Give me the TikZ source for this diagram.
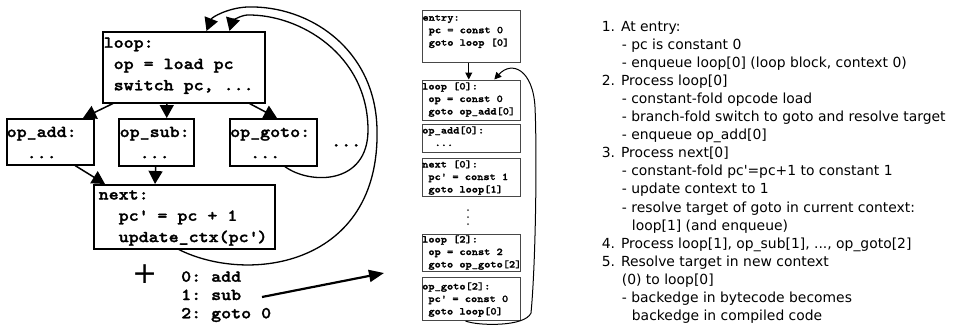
\documentclass[tikz,border=0pt]{standalone}
\usepackage{fontspec}
\setmainfont{DejaVu Sans}
\newfontfamily\courb[FakeStretch=1.14,FakeBold=1.6]{lmmonolt10-bold.otf}
\usetikzlibrary{arrows.meta}
\newcommand\mylines[1]{\begin{tabular}[t]{@{}l@{}}#1\end{tabular}}
\newcommand\ind{\hphantom{x}}
\newcommand\q{\textquotesingle}
\tikzset{
  lbox/.style={draw=black, line width=1.5bp, inner sep=0pt, anchor=north west},
  mbox/.style={draw=black!72, line width=1bp, inner sep=0pt, anchor=north west},
  ltxt/.style={anchor=base west, inner sep=0pt,
    font=\courb\fontsize{16.7bp}{21.3bp}\selectfont\frenchspacing},
  btxt/.style={anchor=base west, inner sep=0pt,
    font=\courb\fontsize{16.7bp}{18.3bp}\selectfont\frenchspacing},
  mtxt/.style={anchor=base west, inner sep=0pt,
    font=\courb\fontsize{10.36bp}{12.5bp}\selectfont\frenchspacing},
  rtxt/.style={anchor=base west, inner sep=0pt,
    font=\fontsize{13.9bp}{18.1bp}\selectfont},
  larrow/.style={line width=1.5bp, -{Triangle[length=13bp,width=14bp]}},
  lcurve/.style={line width=1.3bp, -{Triangle[length=13bp,width=14bp]}},
  marrow/.style={line width=1bp, -{Triangle[length=7bp,width=7bp]}},
  bigarrow/.style={line width=2.2bp, -{Triangle[length=15bp,width=12bp]}},
}
\begin{document}
\begin{tikzpicture}[x=1bp, y=-1bp]
\useasboundingbox (0,0) rectangle (958,326);

% ---------- left: interpreter CFG ----------
\node[lbox, minimum width=162bp, minimum height=71bp] (loop) at (102,31) {};
\node[lbox, minimum width=87bp, minimum height=46bp] (opadd) at (6,118) {};
\node[lbox, minimum width=75bp, minimum height=47bp] (opsub) at (118,118) {};
\node[lbox, minimum width=87bp, minimum height=47bp] (opgoto) at (229,118) {};
\node[lbox, minimum width=181bp, minimum height=64bp] (next) at (93,184) {};

\node[ltxt] (looptxt) at (103.5,47.7) {\mylines{loop:\\\ind op = load pc\\\ind switch pc, ...}};
\node[ltxt] (opaddtxt) at (6.5,137) {\mylines{op\_add:\\\ind\ind ...}};
\node[ltxt] (opsubtxt) at (119.5,137) {\mylines{op\_sub:\\\ind\ind ...}};
\node[ltxt] (opgototxt) at (230,137) {\mylines{op\_goto:\\\ind\ind ...}};
\node[ltxt] (moreops) at (331,146.5) {...};
\node[ltxt] (nexttxt) at (98.5,199.5) {\mylines{next:\\\ind\ind pc\q{} = pc + 1\\\ind\ind update\_ctx(pc\q)}};

\draw[larrow] ([xshift=11bp]loop.south west) -- ([xshift=77bp]opadd.north west);
\draw[larrow] ([xshift=-17bp]loop.south) -- ([xshift=10.5bp]opsub.north);
\draw[larrow] ([xshift=-16bp]loop.south east) -- ([xshift=48bp]opgoto.north west);
\draw[larrow] ([xshift=69bp]opadd.south west) -- ([xshift=12bp]next.north west);
\draw[larrow] ([xshift=-0.5bp]opsub.south) -- ([xshift=62bp]next.north west);

\draw[lcurve] ([xshift=11.5bp]opgoto.south)
  .. controls (310,185) and (368,185) .. (368,130)
  .. controls (368,55) and (300,14) .. (247,15)
  .. controls (238,16) and (232,22) .. ([xshift=-36bp]loop.north east);
\draw[lcurve] ([xshift=-5.5bp]next.south)
  .. controls (250,285) and (380,265) .. (377,130)
  .. controls (376,50) and (310,5) .. (247,7)
  .. controls (228,8) and (212,17) .. ([xshift=-59bp]loop.north east);

\node[font=\fontsize{30bp}{30bp}\selectfont, inner sep=0pt] (plus) at (145,274) {+};
\node[btxt] (bytecode) at (181,281.7) {\mylines{0: add\\1: sub\\2: goto 0}};
\coordinate (bcstart) at (262,297);
\coordinate (bcend) at (384,273);
\draw[bigarrow] (bcstart) -- (bcend);

% ---------- middle: compiled code ----------
\node[mbox, minimum width=98.5bp, minimum height=52bp] (entry) at (421.5,9.5) {};
\node[mbox, minimum width=98.5bp, minimum height=40bp] (loop0) at (421.5,79.5) {};
\node[mbox, minimum width=98.5bp, minimum height=28bp] (opadd0) at (421.5,124) {};
\node[mbox, minimum width=98.5bp, minimum height=38bp] (next0) at (421.5,158) {};
\node[mbox, minimum width=98.5bp, minimum height=37.5bp] (loop2) at (421.5,233.5) {};
\node[mbox, minimum width=98.5bp, minimum height=43.5bp] (opgoto2) at (421.5,276.5) {};

\node[mtxt] (entrytxt) at (422.3,20.7) {\mylines{entry:\\\ind pc = const 0\\\ind goto loop [0]}};
\node[mtxt] (loop0txt) at (422,89.5) {\mylines{loop [0]:\\\ind op = const 0\\\ind goto op\_add[0]}};
\node[mtxt] (opadd0txt) at (422,133.5) {\mylines{op\_add[0]:\\\ind\ind ...}};
\node[mtxt] (next0txt) at (422,167.5) {\mylines{next [0]:\\\ind pc\q{} = const 1\\\ind goto loop[1]}};
\node[mtxt] (loop2txt) at (422,242.5) {\mylines{loop [2]:\\\ind op = const 2\\\ind goto op\_goto[2]}};
\node[mtxt] (opgoto2txt) at (422,289.5) {\mylines{op\_goto[2]:\\\ind pc\q{} = const 0\\\ind goto loop[0]}};

\fill[black!75] (468,210) circle (1bp) (468,217) circle (1bp) (468,224) circle (1bp);

\draw[marrow] ([xshift=-2.5bp]entry.south) -- ([xshift=-2.5bp]loop0.north);
\draw[marrow] ([xshift=-5.7bp]opgoto2.south)
  .. controls (478,326) and (525,327) .. (531,313)
  .. controls (536,260) and (537,150) .. (535,107)
  .. controls (533,70) and (512,60) .. ([xshift=-26.7bp]loop0.north east);

% ---------- right: steps ----------
\node[rtxt] (steps) at (601.7,31) {\mylines{%
1. At entry:\\
\hspace*{20bp}- pc is constant 0\\
\hspace*{20bp}- enqueue loop[0] (loop block, context 0)\\
2. Process loop[0]\\
\hspace*{20bp}- constant-fold opcode load\\
\hspace*{20bp}- branch-fold switch to goto and resolve target\\
\hspace*{20bp}- enqueue op\_add[0]\\
3. Process next[0]\\
\hspace*{20bp}- constant-fold pc\q=pc+1 to constant 1\\
\hspace*{20bp}- update context to 1\\
\hspace*{20bp}- resolve target of goto in current context:\\
\hspace*{30bp}loop[1] (and enqueue)\\
4. Process loop[1], op\_sub[1], ..., op\_goto[2]\\
5. Resolve target in new context\\
\hspace*{20bp}(0) to loop[0]\\
\hspace*{20bp}- backedge in bytecode becomes\\
\hspace*{30bp}backedge in compiled code}};
\end{tikzpicture}
\end{document}
